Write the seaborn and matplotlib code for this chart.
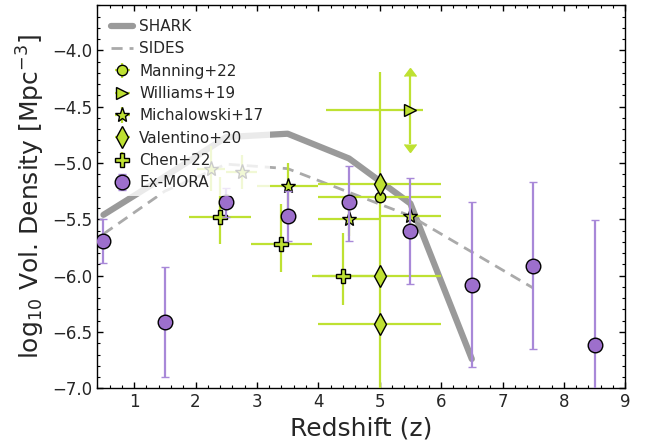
"""Number density of massive dusty / quiescent galaxies vs redshift."""

import matplotlib
matplotlib.use("Agg")
import matplotlib.pyplot as plt
from matplotlib.ticker import AutoMinorLocator, MultipleLocator
import pandas as pd
import seaborn as sns

sns.set_style("ticks", {"xtick.direction": "in", "ytick.direction": "in"})
plt.rcParams["font.family"] = ["DejaVu Sans"]
plt.rcParams["mathtext.fontset"] = "dejavusans"

GREEN = "#bee132"
PURPLE = "#9d6fcc"
PURPLE_ERR = "#a888d8"

# --- model curves ---
shark_z = [0.5, 1.5, 2.5, 3.5, 4.5, 5.5, 6.5]
shark_y = [-5.46, -5.12, -4.77, -4.74, -4.96, -5.36, -6.74]

sides_z = [0.5, 1.5, 2.5, 3.5, 4.5, 5.5, 6.5, 7.5]
sides_y = [-5.63, -5.25, -5.01, -5.05, -5.26, -5.47, -5.79, -6.11]

# --- literature points ---
manning_z = [5.0]
manning_y = [-5.30]
manning_xerr = [1.0]
manning_yerr = [[2.0], [1.11]]

williams_z = [5.5]
williams_y = [-4.53]
williams_xerr = [[1.38], [0.21]]
williams_yerr = [0.3]

micha_z = [2.25, 2.75, 3.5, 4.5, 5.5]
micha_y = [-5.05, -5.08, -5.20, -5.50, -5.47]
micha_xerr = [0.23, 0.25, 0.5, 0.5, 0.5]
micha_yerr = [0.2, 0.15, 0.2, 0.15, 0.15]

valentino_z = [5.0, 5.0, 5.0]
valentino_y = [-5.19, -6.00, -6.43]
valentino_xerr = [1.0, 1.0, 1.0]

chen_z = [2.4, 3.4, 4.4]
chen_y = [-5.48, -5.72, -6.00]
chen_xerr = [0.5, 0.5, 0.5]
chen_yerr = [[0.24, 0.25, 0.26], [0.36, 0.36, 0.38]]

# --- this work ---
mora_z = [0.5, 1.5, 2.5, 3.5, 4.5, 5.5, 6.5, 7.5, 8.5]
mora_y = [-5.69, -6.41, -5.35, -5.47, -5.35, -5.60, -6.08, -5.91, -6.62]
mora_yerr = [[0.20, 0.49, 0.13, 0.22, 0.34, 0.47, 0.73, 0.74, 1.11],
             [0.19, 0.49, 0.13, 0.22, 0.32, 0.47, 0.73, 0.74, 1.11]]

shark = pd.DataFrame({"z": shark_z, "logn": shark_y})
sides = pd.DataFrame({"z": sides_z, "logn": sides_y})

fig = plt.figure(figsize=(6.51, 4.45), dpi=100)
ax = fig.add_axes([0.1495, 0.1274, 0.811, 0.8607])

sns.lineplot(data=shark, x="z", y="logn", ax=ax, color="#9a9a9a", lw=4.5,
             label="SHARK", zorder=1)
sns.lineplot(data=sides, x="z", y="logn", ax=ax, color="#aaaaaa", lw=2,
             ls=(0, (4, 2.5)), label="SIDES", zorder=1)

ekw = dict(ls="none", color=GREEN, ecolor=GREEN, elinewidth=1.6, mec="black",
           mew=1.0, zorder=3)
ax.errorbar(manning_z, manning_y, xerr=manning_xerr, yerr=manning_yerr,
            fmt="o", ms=7.5, label="Manning+22", **ekw)
# Williams+19: limits in both directions -> arrow up and arrow down
for lim in ("lolims", "uplims"):
    ax.errorbar(williams_z, williams_y, yerr=williams_yerr, fmt="none",
                color=GREEN, ecolor=GREEN, elinewidth=1.6, capsize=4,
                zorder=3, **{lim: True})
ax.errorbar(williams_z, williams_y, xerr=williams_xerr,
            fmt=">", ms=9, label="Williams+19", **ekw)
ax.errorbar(micha_z, micha_y, xerr=micha_xerr, yerr=micha_yerr,
            fmt="*", ms=11, label="Michalowski+17", **ekw)
ax.errorbar(valentino_z, valentino_y, xerr=valentino_xerr,
            fmt="d", ms=11, label="Valentino+20", **ekw)
ax.errorbar(chen_z, chen_y, xerr=chen_xerr, yerr=chen_yerr,
            fmt="P", ms=10, label="Chen+22", **ekw)
ax.errorbar(mora_z, mora_y, yerr=mora_yerr, fmt="o", ls="none", ms=10.5,
            color=PURPLE, ecolor=PURPLE_ERR, elinewidth=1.6, capsize=3,
            capthick=1.4, mec="black", mew=1.0, label="Ex-MORA", zorder=4)

ax.set_xlim(0.4, 9)
ax.set_ylim(-7.0, -3.6)
ax.xaxis.set_major_locator(MultipleLocator(1))
ax.xaxis.set_minor_locator(AutoMinorLocator(5))
ax.yaxis.set_major_locator(MultipleLocator(0.5))
ax.yaxis.set_minor_locator(AutoMinorLocator(5))
ax.tick_params(which="both", direction="in", top=True, right=True,
               labelsize=12, color="black")
ax.tick_params(which="major", length=4.5, width=1)
ax.tick_params(which="minor", length=2.5, width=0.8)
for s in ax.spines.values():
    s.set_color("black")
    s.set_linewidth(1)

ax.set_xlabel("Redshift (z)", fontsize=18)
ax.set_ylabel(r"log$_{10}$ Vol. Density [Mpc$^{-3}$]", fontsize=18)

ax.legend(loc="upper left", fontsize=11, frameon=True, framealpha=0.8,
          edgecolor="none", facecolor="white", labelspacing=0.48,
          handlelength=1.45, handletextpad=0.4, borderaxespad=0.5)

fig.savefig("out.png", dpi=100)
